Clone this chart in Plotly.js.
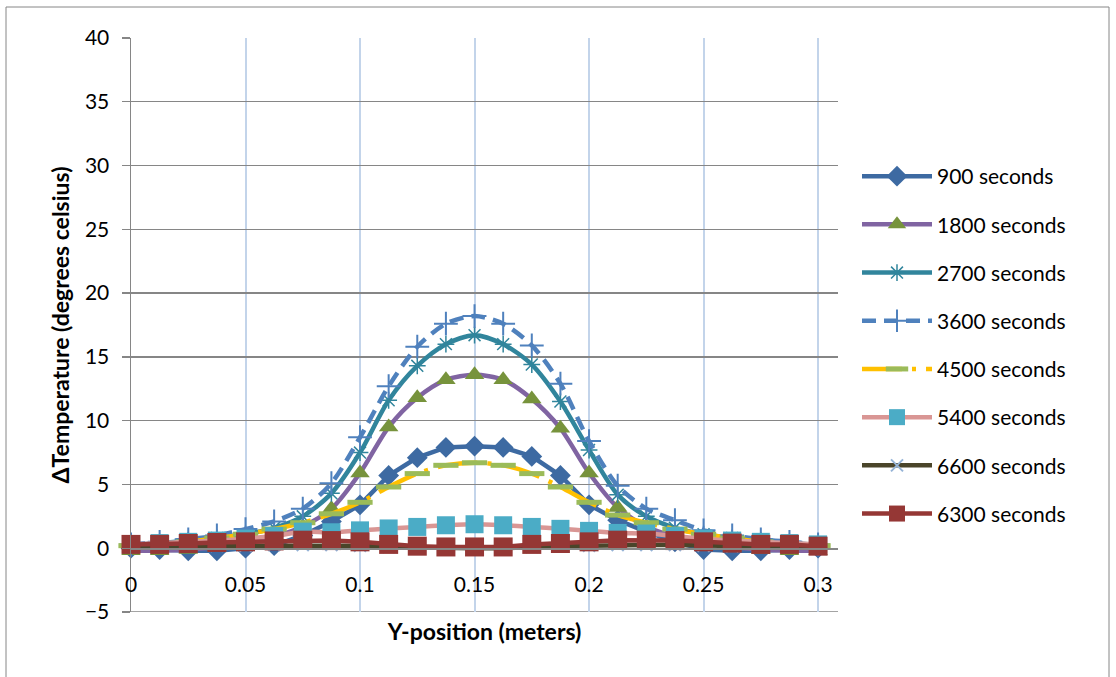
<!DOCTYPE html>
<html>
<head>
<meta charset="utf-8">
<script src="https://cdn.plot.ly/plotly-3.0.1.min.js"></script>
<style>
html,body{margin:0;padding:0;background:#fff;}
#chart{width:1116px;height:677px;}
</style>
</head>
<body>
<div id="chart"></div>
<script>
// Y-position (meters)
const yPosition = [0, 0.0125, 0.025, 0.0375, 0.05, 0.0625, 0.075, 0.0875, 0.1, 0.1125, 0.125, 0.1375, 0.15,
                   0.1625, 0.175, 0.1875, 0.2, 0.2125, 0.225, 0.2375, 0.25, 0.2625, 0.275, 0.2875, 0.3];

const seriesNames = ["900 seconds", "1800 seconds", "2700 seconds", "3600 seconds",
                     "4500 seconds", "5400 seconds", "6600 seconds", "6300 seconds"];

const t900  = [0.0, -0.1, -0.2, -0.2, 0.0, 0.2, 1.0, 2.1, 3.4, 5.7, 7.1, 7.9, 8.0, 7.9, 7.2, 5.7, 3.4, 2.2, 1.3, 0.5, -0.1, -0.2, -0.2, -0.1, 0.0];
const t1800 = [-0.2, -0.2, -0.1, 0.1, 0.4, 0.9, 1.7, 3.1, 5.9, 9.5, 11.8, 13.2, 13.6, 13.2, 11.7, 9.4, 5.9, 3.2, 1.7, 0.9, 0.4, 0.1, -0.1, -0.2, -0.2];
const t2700 = [0.3, 0.4, 0.6, 0.8, 1.1, 1.6, 2.5, 4.3, 7.5, 11.6, 14.3, 16.0, 16.7, 16.0, 14.4, 11.5, 7.7, 4.2, 2.5, 1.6, 1.1, 0.8, 0.6, 0.4, 0.3];
const t3600 = [0.3, 0.5, 0.7, 1.0, 1.5, 2.1, 3.1, 5.1, 8.7, 12.7, 15.8, 17.6, 18.2, 17.6, 15.9, 12.9, 8.4, 4.9, 3.1, 2.2, 1.4, 1.0, 0.7, 0.5, 0.3];
const t4500 = [0.2, 0.3, 0.5, 0.8, 1.1, 1.5, 2.0, 2.7, 3.6, 4.8, 5.85, 6.5, 6.7, 6.5, 5.85, 4.8, 3.6, 2.6, 2.0, 1.5, 1.1, 0.8, 0.5, 0.3, 0.2];
const t5400 = [0.3, 0.4, 0.5, 0.6, 0.75, 0.95, 1.3, 1.25, 1.4, 1.55, 1.67, 1.8, 1.88, 1.8, 1.67, 1.52, 1.36, 1.2, 1.15, 0.95, 0.75, 0.6, 0.5, 0.4, 0.3];
const t6600 = [0.1, 0.1, 0.15, 0.2, 0.2, 0.25, 0.25, 0.25, 0.2, 0.1, 0.05, 0.0, 0.0, 0.0, 0.1, 0.15, 0.2, 0.25, 0.25, 0.25, 0.2, 0.15, 0.1, 0.1, 0.05];
const t6300 = [0.3, 0.3, 0.37, 0.45, 0.5, 0.57, 0.63, 0.6, 0.5, 0.3, 0.16, 0.1, 0.1, 0.1, 0.3, 0.37, 0.5, 0.63, 0.63, 0.6, 0.5, 0.4, 0.3, 0.3, 0.16];

const xTickVals = [0, 0.05, 0.1, 0.15, 0.2, 0.25, 0.3];
const xTickText = ["0", "0.05", "0.1", "0.15", "0.2", "0.25", "0.3"];
const yTickVals = [-5, 0, 5, 10, 15, 20, 25, 30, 35, 40];

const FONT = "Lato, 'Open Sans', sans-serif";

function mk(name, y, line, marker, i) {
  return {
    type: "scatter", mode: "lines+markers", x: yPosition, y: y, name: name,
    legendgroup: "g" + i,
    line: line, marker: marker, cliponaxis: false
  };
}

const traces = [
  mk(seriesNames[0], t900, {color: "#3D6AA2", width: 4.5}, {symbol: "diamond", size: 16, color: "#3D6AA2"}, 0),
  mk(seriesNames[1], t1800, {color: "#8064A2", width: 4.5, shape: "spline", smoothing: 0.8}, {symbol: "triangle-up", size: 17, color: "#77933C"}, 1),
  mk(seriesNames[2], t2700, {color: "#31859C", width: 4.5, shape: "spline", smoothing: 0.8}, {symbol: "asterisk-open", size: 14, color: "#31859C", line: {color: "#31859C", width: 1.5}}, 2),
  mk(seriesNames[3], t3600, {color: "#4F81BD", width: 4.5, dash: "14px,8px", shape: "spline", smoothing: 0.8}, {symbol: "cross-thin-open", size: 17, color: "#4F81BD", line: {color: "#4F81BD", width: 2}}, 3),
  mk(seriesNames[4], t4500, {color: "#FFC000", width: 4.5, dash: "40px,10px,4px,10px", shape: "spline", smoothing: 0.8}, {symbol: "line-ew", size: 18, color: "#9BBB59", line: {color: "#9BBB59", width: 5}}, 4),
  mk(seriesNames[5], t5400, {color: "#D99694", width: 4.5, shape: "spline", smoothing: 0.8}, {symbol: "square", size: 18, color: "#4BACC6"}, 5),
  mk(seriesNames[6], t6600, {color: "#4A452A", width: 4.5}, {symbol: "x-thin-open", size: 12, color: "#95B3D7", line: {color: "#95B3D7", width: 2}}, 6),
  mk(seriesNames[7], t6300, {color: "#953735", width: 4.5}, {symbol: "square", size: 19, color: "#953735"}, 7)
];

// plot area: x 131..838, y 38..612 px
const L = 131, R = 1116 - 838, T = 38, B = 677 - 612;
const pw = 1116 - L - R, ph = 677 - T - B;

const layout = {
  width: 1116, height: 677,
  margin: {l: L, r: R, t: T, b: B, pad: 0},
  paper_bgcolor: "#ffffff", plot_bgcolor: "#ffffff",
  font: {family: FONT, size: 21, color: "#000000"},
  showlegend: true,
  legend: {
    x: (857 - L) / pw, xanchor: "left",
    y: (612 - 156) / ph, yanchor: "top",
    font: {family: FONT, size: 21, color: "#000"},
    tracegroupgap: 17.9, itemwidth: 70,
    bgcolor: "rgba(0,0,0,0)", borderwidth: 0
  },
  xaxis: {
    range: [0, 0.3087], tickvals: xTickVals, ticktext: xTickText,
    showgrid: true, gridcolor: "#C3D4EA", gridwidth: 2,
    zeroline: false, showline: true, linecolor: "#868686", linewidth: 1.5,
    anchor: "free", position: 5 / 45,
    ticks: "", ticklabelstandoff: 17,
    tickfont: {family: FONT, size: 21, color: "#000"},
    title: {text: "<b>Y-position (meters)</b>", font: {family: FONT, size: 23, color: "#000"}, standoff: 29},
    automargin: false, fixedrange: true
  },
  yaxis: {
    range: [-5, 40], tickvals: yTickVals,
    showgrid: true, gridcolor: "#868686", gridwidth: 1.3,
    zeroline: false, showline: true, linecolor: "#868686", linewidth: 1.5,
    ticks: "outside", ticklen: 8, tickcolor: "#868686", tickwidth: 1.3,
    ticklabelstandoff: 8,
    tickfont: {family: FONT, size: 21, color: "#000"},
    title: {text: "<b>ΔTemperature (degrees celsius)</b>", font: {family: FONT, size: 23, color: "#000"}, standoff: 9},
    automargin: false, fixedrange: true
  },
  shapes: [
    {type: "rect", xref: "paper", yref: "paper",
     x0: (6 - L) / pw, x1: (1109 - L) / pw, y0: (612 - 690) / ph, y1: (612 - 7) / ph,
     line: {color: "#868686", width: 1}, fillcolor: "rgba(0,0,0,0)", layer: "below"},
    {type: "line", xref: "paper", yref: "y", x0: -8 / pw, x1: 1, y0: -5, y1: -5,
     line: {color: "#868686", width: 1.5}, layer: "below"}
  ]
};

Plotly.newPlot("chart", traces, layout, {displayModeBar: false, staticPlot: true});
</script>
</body>
</html>
